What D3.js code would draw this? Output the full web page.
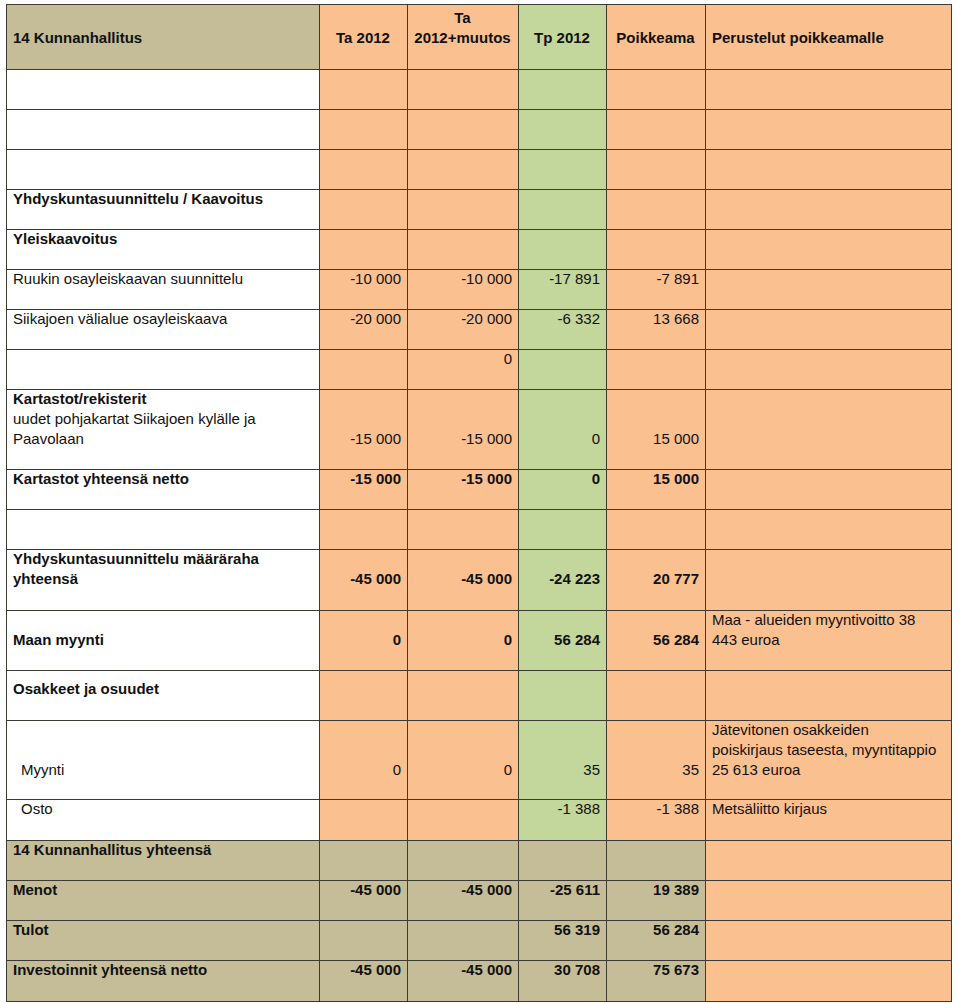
<!DOCTYPE html>
<html>
<head>
<meta charset="utf-8">
<script src="https://cdn.jsdelivr.net/npm/d3@7"></script>
<style>
  body { margin: 0; background: #fff; }
  svg { display: block; font-family: "Liberation Sans", Arial, sans-serif; }
</style>
</head>
<body>
<div id="chart"></div>
<script>
// Table data (lines split with "|", a leading "*" marks a bold line)
const headers = ["14 Kunnanhallitus", "Ta 2012", "Ta|2012+muutos", "Tp 2012", "Poikkeama", "Perustelut poikkeamalle"];

const labels = [
  "", "", "",
  "*Yhdyskuntasuunnittelu / Kaavoitus",
  "*Yleiskaavoitus",
  "Ruukin osayleiskaavan suunnittelu",
  "Siikajoen välialue osayleiskaava",
  "",
  "*Kartastot/rekisterit|uudet pohjakartat Siikajoen kylälle ja|Paavolaan",
  "*Kartastot yhteensä netto",
  "",
  "*Yhdyskuntasuunnittelu määräraha|*yhteensä",
  "*Maan myynti",
  "*Osakkeet ja osuudet",
  "Myynti",
  "Osto",
  "*14 Kunnanhallitus yhteensä",
  "*Menot",
  "*Tulot",
  "*Investoinnit yhteensä netto"
];

const ta2012 =      [null, null, null, null, null, -10000, -20000, null, -15000, -15000, null, -45000, 0, null, 0, null, null, -45000, null, -45000];
const taMuutos =    [null, null, null, null, null, -10000, -20000, 0,    -15000, -15000, null, -45000, 0, null, 0, null, null, -45000, null, -45000];
const tp2012 =      [null, null, null, null, null, -17891, -6332,  null, 0,      0,      null, -24223, 56284, null, 35, -1388, null, -25611, 56319, 30708];
const poikkeama =   [null, null, null, null, null, -7891,  13668,  null, 15000,  15000,  null, 20777,  56284, null, 35, -1388, null, 19389, 56284, 75673];
const perustelut = [
  "", "", "", "", "", "", "", "", "", "", "", "",
  "Maa - alueiden myyntivoitto 38|443 euroa",
  "",
  "Jätevitonen osakkeiden|poiskirjaus taseesta, myyntitappio|25 613 euroa",
  "Metsäliitto kirjaus",
  "", "", "", ""
];

// row kinds: plain data rows vs. the summary block at the bottom
const summaryRows = [16, 17, 18, 19];
const boldValueRows = [9, 11, 12, 17, 18, 19];
const indentRows = [14, 15];

// layout
const colWidths = [313, 88, 111, 88, 99, 246];
const rowHeights = [65, 40, 40, 40, 40, 40, 40, 40, 40, 80, 40, 40, 61, 60, 50, 79, 41, 40, 40, 40, 41];
const rowPad = rowHeights.map((h, i) => i === 0 ? 14 : i === 14 ? 19 : 10);

const width = 960, height = 1003;
const x0 = 6, y0 = 4;
const colX = [x0, ...d3.cumsum(colWidths).map(d => x0 + d)];
const rowY = [y0, ...d3.cumsum(rowHeights).map(d => y0 + d)];

const colors = { tan: "#c4bd97", orange: "#fac090", green: "#c3d69b", white: "#ffffff" };

const fmt = d3.formatLocale({ decimal: ",", thousands: " ", grouping: [3], currency: ["", ""], minus: "-" }).format(",d");

const svg = d3.select("#chart").append("svg")
  .attr("width", width)
  .attr("height", height);

// build cell list
const cells = [];
headers.forEach((h, c) => {
  cells.push({
    r: 0, c, text: h,
    fill: c === 0 ? colors.tan : c === 3 ? colors.green : colors.orange,
    align: c === 0 || c === 5 ? "start" : "middle",
    bold: true
  });
});

labels.forEach((lab, i) => {
  const r = i + 1;
  const summary = summaryRows.includes(i);
  const bold = boldValueRows.includes(i);
  const vals = [ta2012[i], taMuutos[i], tp2012[i], poikkeama[i]];
  cells.push({ r, c: 0, text: lab, fill: summary ? colors.tan : colors.white, align: "start", indent: indentRows.includes(i) });
  vals.forEach((v, k) => {
    const c = k + 1;
    cells.push({
      r, c, text: v == null ? "" : fmt(v),
      fill: summary ? colors.tan : c === 3 ? colors.green : colors.orange,
      align: "end", bold
    });
  });
  cells.push({ r, c: 5, text: perustelut[i], fill: colors.orange, align: "start" });
});

// max line count per row, so short cells sit on the last line
const lineCount = d => d.text ? d.text.split("|").length : 0;
const maxLines = d3.rollup(cells, v => d3.max(v, lineCount), d => d.r);

const g = svg.append("g");

g.selectAll("rect.cell")
  .data(cells)
  .enter().append("rect")
  .attr("class", "cell")
  .attr("x", d => colX[d.c])
  .attr("y", d => rowY[d.r])
  .attr("width", d => colX[d.c + 1] - colX[d.c])
  .attr("height", d => rowY[d.r + 1] - rowY[d.r])
  .attr("fill", d => d.fill)
  .attr("stroke", "#3d3a33")
  .attr("stroke-width", 1)
  .attr("shape-rendering", "crispEdges");

const texts = g.selectAll("text.cell")
  .data(cells.filter(d => d.text))
  .enter().append("text")
  .attr("class", "cell")
  .attr("font-size", 15)
  .attr("fill", "#111")
  .attr("text-anchor", d => d.align);

texts.each(function(d) {
  const lines = d.text.split("|");
  const offset = maxLines.get(d.r) - lines.length;
  let x;
  if (d.align === "start") x = colX[d.c] + (d.indent ? 15 : 7);
  else if (d.align === "end") x = colX[d.c + 1] - 6;
  else x = (colX[d.c] + colX[d.c + 1]) / 2;
  const t = d3.select(this);
  lines.forEach((line, i) => {
    const isBold = d.bold || line.startsWith("*");
    t.append("tspan")
      .attr("x", x)
      .attr("y", rowY[d.r] + rowPad[d.r] + 20 * (i + offset) + 5)
      .attr("font-weight", isBold ? "bold" : "normal")
      .text(line.replace(/^\*/, ""));
  });
});
</script>
</body>
</html>
